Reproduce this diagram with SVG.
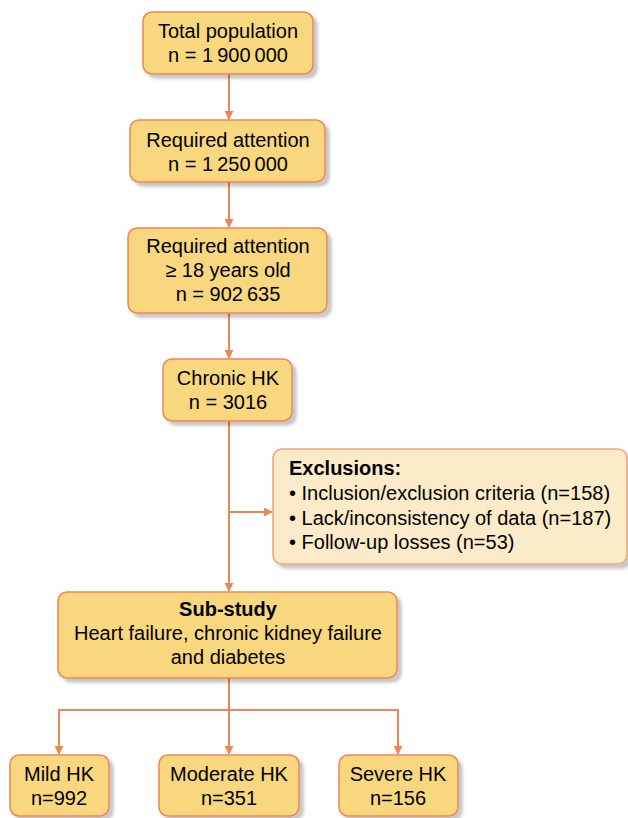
<svg xmlns="http://www.w3.org/2000/svg" width="628" height="818" viewBox="0 0 628 818">
<defs>
<filter id="sh" x="-10%" y="-10%" width="130%" height="140%">
<feDropShadow dx="4" dy="4" stdDeviation="1.5" flood-color="#000" flood-opacity="0.22"/>
</filter>
<marker id="ah" viewBox="0 0 10 10" refX="9" refY="5" markerWidth="9" markerHeight="9" markerUnits="userSpaceOnUse" orient="auto">
<path d="M0,0 L10,5 L0,10 z" fill="#EE8554"/>
</marker>
<style>
.b{fill:#F9D77E;stroke:#EE8554;stroke-width:1.5;filter:url(#sh)}
.e{fill:#FCEBC8;stroke:#F3A47A;stroke-width:1.5;filter:url(#sh)}
text{font-family:"Liberation Sans",Arial,sans-serif;font-size:20px;fill:#000}
.c{text-anchor:middle}
.bold{font-weight:bold}
.l{fill:none;stroke:#EE8554;stroke-width:2}
</style>
</defs>
<g id="connectors">
<line class="l" x1="229" y1="74" x2="229" y2="119" marker-end="url(#ah)"/>
<line class="l" x1="229" y1="182" x2="229" y2="227" marker-end="url(#ah)"/>
<line class="l" x1="229" y1="313" x2="229" y2="358" marker-end="url(#ah)"/>
<line class="l" x1="229" y1="421" x2="229" y2="591" marker-end="url(#ah)"/>
<line class="l" x1="229" y1="512" x2="272" y2="512" marker-end="url(#ah)"/>
<polyline class="l" points="229,678 229,710"/>
<polyline class="l" points="59,710 398,710"/>
<line class="l" x1="59" y1="709" x2="59" y2="754" marker-end="url(#ah)"/>
<line class="l" x1="229" y1="710" x2="229" y2="754" marker-end="url(#ah)"/>
<line class="l" x1="398" y1="709" x2="398" y2="754" marker-end="url(#ah)"/>
</g>
<g id="n1">
<rect class="b" x="143" y="12" width="170" height="62" rx="9"/>
<text class="c" x="228" y="38">Total population</text>
<text class="c" x="228" y="62">n = 1&#8201;900&#8201;000</text>
</g>
<g id="n2">
<rect class="b" x="130" y="120" width="195" height="62" rx="9"/>
<text class="c" x="228" y="147">Required attention</text>
<text class="c" x="228" y="171">n = 1&#8201;250&#8201;000</text>
</g>
<g id="n3">
<rect class="b" x="128" y="228" width="199" height="85" rx="9"/>
<text class="c" x="228" y="253">Required attention</text>
<text class="c" x="228" y="277">≥ 18 years old</text>
<text class="c" x="228" y="301">n = 902&#8201;635</text>
</g>
<g id="n4">
<rect class="b" x="163" y="359" width="129" height="62" rx="9"/>
<text class="c" x="228" y="385">Chronic HK</text>
<text class="c" x="228" y="409">n = 3016</text>
</g>
<g id="excl">
<rect class="e" x="273" y="449" width="354" height="115" rx="9"/>
<text class="bold" x="289" y="475">Exclusions:</text>
<text x="289" y="500">• Inclusion/exclusion criteria (n=158)</text>
<text x="289" y="525">• Lack/inconsistency of data (n=187)</text>
<text x="289" y="549">• Follow-up losses (n=53)</text>
</g>
<g id="sub">
<rect class="b" x="58" y="592" width="339" height="86" rx="9"/>
<text class="c bold" x="228" y="616">Sub-study</text>
<text class="c" x="228" y="640">Heart failure, chronic kidney failure</text>
<text class="c" x="228" y="664">and diabetes</text>
</g>
<g id="mild">
<rect class="b" x="10" y="755" width="99" height="61" rx="9"/>
<text class="c" x="59" y="781">Mild HK</text>
<text class="c" x="59" y="805">n=992</text>
</g>
<g id="moderate">
<rect class="b" x="159" y="755" width="140" height="61" rx="9"/>
<text class="c" x="229" y="781">Moderate HK</text>
<text class="c" x="229" y="805">n=351</text>
</g>
<g id="severe">
<rect class="b" x="339" y="755" width="119" height="61" rx="9"/>
<text class="c" x="398" y="781">Severe HK</text>
<text class="c" x="398" y="805">n=156</text>
</g>
</svg>
